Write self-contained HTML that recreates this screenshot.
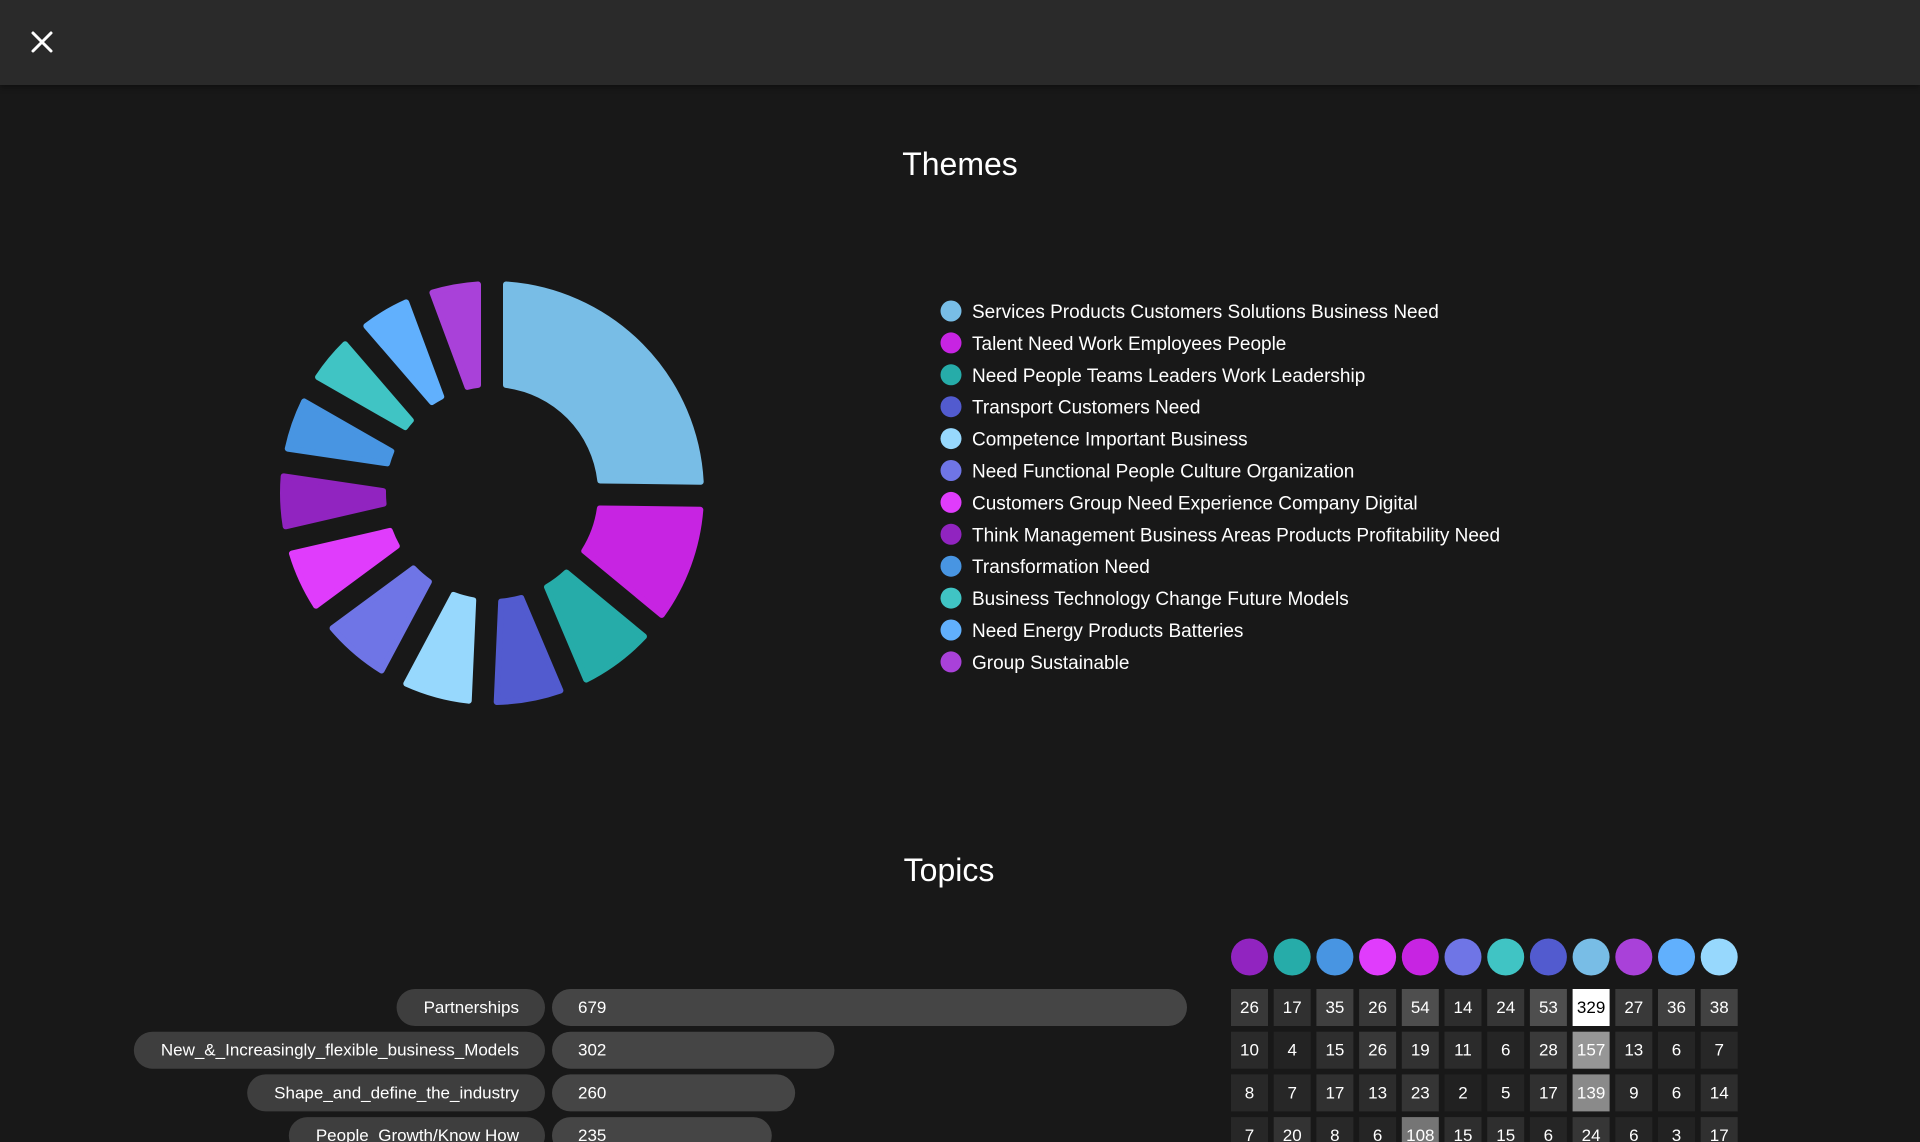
<!DOCTYPE html>
<html><head><meta charset="utf-8">
<style>
html,body{margin:0;padding:0;background:#181818;width:1920px;height:1142px;overflow:hidden;font-family:"Liberation Sans",Arial,sans-serif;color:#fff}
#hdr{position:absolute;left:0;top:0;width:1920px;height:85px;background:#2a2a2a;box-shadow:0 2px 6px rgba(0,0,0,.4)}
#close{position:absolute;left:30px;top:30px;width:24px;height:24px;cursor:pointer}
.title{position:absolute;font-size:32px;transform:translateX(-50%)}
</style></head><body>
<div id="hdr">
<svg id="close" viewBox="0 0 24 24"><path d="M3 3L21 21M21 3L3 21" stroke="#fff" stroke-width="3" stroke-linecap="round"/></svg>
</div>
<div class="title" style="left:960px;top:146px">Themes</div>
<div class="title" style="left:949px;top:852px">Topics</div>
<svg id="chart" width="1920" height="1142" style="position:absolute;left:0;top:0"></svg>
<script>
const themeNames=["Services Products Customers Solutions Business Need","Talent Need Work Employees People","Need People Teams Leaders Work Leadership","Transport Customers Need","Competence Important Business","Need Functional People Culture Organization","Customers Group Need Experience Company Digital","Think Management Business Areas Products Profitability Need","Transformation Need","Business Technology Change Future Models","Need Energy Products Batteries","Group Sustainable"];
const themeColors=["#78bde6","#c724e2","#26aca9","#525bcf","#97d8fd","#6f75e6","#e03cfc","#9124c0","#4895e2","#40c4c4","#61b0fd","#a941d9"];
const themeValues=[89,38,27,25,25,25,23,21,21,19,20,20];
const topicNames=["Partnerships","New_&_Increasingly_flexible_business_Models","Shape_and_define_the_industry","People_Growth/Know How"];
const topicValues=[679,302,260,235];
const columnColors=["#9124c0","#26aca9","#4895e2","#e03cfc","#c724e2","#6f75e6","#40c4c4","#525bcf","#78bde6","#a941d9","#61b0fd","#97d8fd"];
const matrix=[[26,17,35,26,54,14,24,53,329,27,36,38],[10,4,15,26,19,11,6,28,157,13,6,7],[8,7,17,13,23,2,5,17,139,9,6,14],[7,20,8,6,108,15,15,6,24,6,3,17]];

const NS="http://www.w3.org/2000/svg";
const svg=document.getElementById('chart');
function mk(t,a,p){const e=document.createElementNS(NS,t);for(const k in a)e.setAttribute(k,a[k]);(p||svg).appendChild(e);return e;}

// donut
const cx=492,cy=493,R=212,r=106,half=11,cr=3;
const total=themeValues.reduce((a,b)=>a+b,0);
let acc=0;
const gDonut=mk('g',{});


function pt(rad,ang){return [cx+rad*Math.sin(ang),cy-rad*Math.cos(ang)];}
themeValues.forEach((v,i)=>{
  const a0=acc/total*2*Math.PI, a1=(acc+v)/total*2*Math.PI; acc+=v;
  const h=half+cr, Ro=R-cr, Ri=r+cr;
  const o0=a0+Math.asin(h/Ro), o1=a1-Math.asin(h/Ro);
  const i0=a0+Math.asin(h/Ri), i1=a1-Math.asin(h/Ri);
  const p1=pt(Ro,o0),p2=pt(Ro,o1),p3=pt(Ri,i1),p4=pt(Ri,i0);
  const lo=(o1-o0)>Math.PI?1:0, li=(i1-i0)>Math.PI?1:0;
  let d=`M${p1}A${Ro},${Ro} 0 ${lo} 1 ${p2}L${p3}`;
  if(i1>i0) d+=`A${Ri},${Ri} 0 ${li} 0 ${p4}`;
  d+='Z';
  const p=mk('path',{d:d,fill:themeColors[i],stroke:themeColors[i],'stroke-width':cr*2,'stroke-linejoin':'round'},gDonut);
  
  
});

// legend
themeNames.forEach((n,i)=>{
  const y=311+i*31.9;
  const g=mk('g',{});
  
  
  mk('circle',{cx:951,cy:y,r:10.5,fill:themeColors[i]},g);
  const t=mk('text',{x:972,y:y+7,'font-size':19,fill:'#fff'},g);
  t.textContent=n;
});

// bars
const x0=552, scaleX=635/679;
const rowY=i=>989+i*42.7;
topicNames.forEach((n,i)=>{
  const y=rowY(i);
  const lbl=mk('g',{});
  
  
  const t=mk('text',{x:519,y:y+24,'font-size':17,fill:'#fff','text-anchor':'end'},lbl);
  t.textContent=n;
  const w=t.getComputedTextLength();
  const rc=mk('rect',{x:519-w-27,y:y,width:w+27+26,height:37,rx:18.5,fill:'#3e3e3e'});
  lbl.insertBefore(rc,t);
  const b=mk('rect',{x:x0,y:y,width:topicValues[i]*scaleX,height:37,rx:18.5,fill:'#454545'});
  
  
  const vt=mk('text',{x:x0+26,y:y+24,'font-size':17,fill:'#fff'});
  
  
  vt.textContent=topicValues[i];
});

// heatmap
const colX=j=>1231+j*42.7;
const maxV=Math.max(...matrix.flat());
columnColors.forEach((c,j)=>{
  const e=mk('ellipse',{cx:colX(j)+18.5,cy:957,rx:18.5,ry:18.5,fill:c});
  
  
});
matrix.forEach((row,i)=>row.forEach((v,j)=>{
  const f=v/maxV;
  const g=Math.round(30+Math.pow(f,0.85)*225);
  const rc=mk('rect',{x:colX(j),y:rowY(i),width:37,height:37,fill:`rgb(${g},${g},${g})`});
  
  
  const t=mk('text',{x:colX(j)+18.5,y:rowY(i)+24,'font-size':17,'text-anchor':'middle',fill:f>0.7?'#000':'#fff'});
  
  
  t.textContent=v;
}));
</script>
</body></html>
